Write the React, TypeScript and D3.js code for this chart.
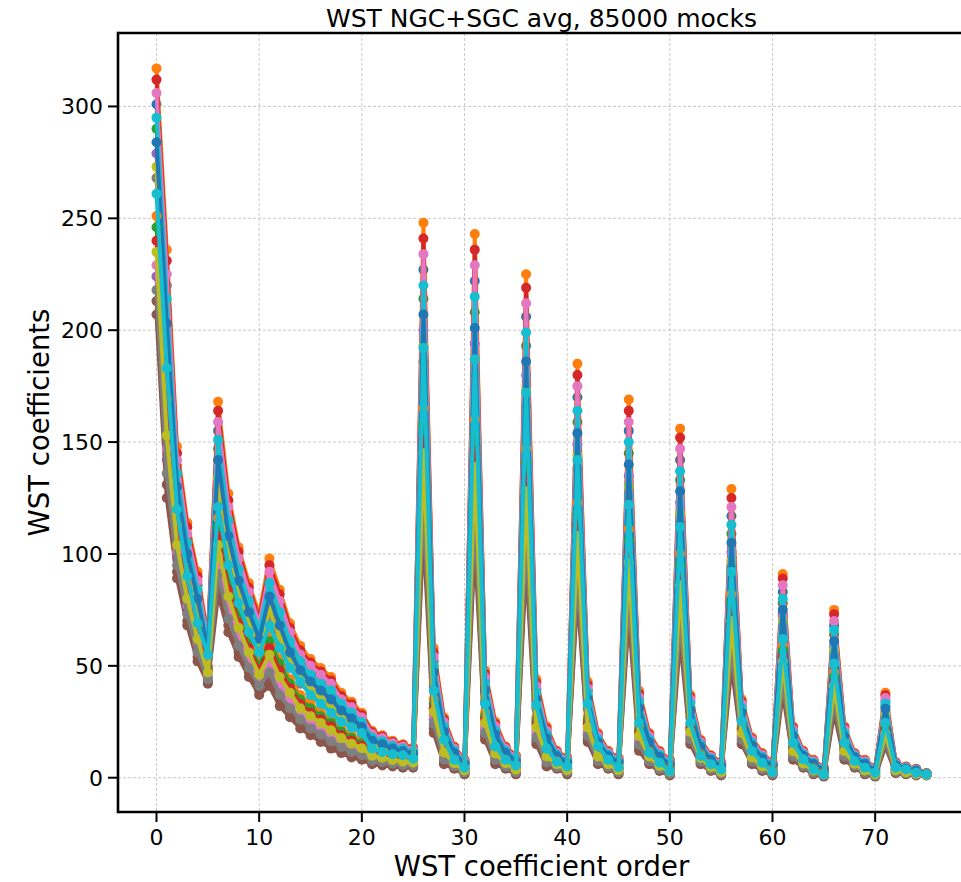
import React from "react";
import * as d3 from "d3";

// ---- data: WST coefficients of the mocks, 76 coefficients each ----
const mockT000 = [207,125,89,68,52,42,82,65,54,45,37,41,32,27,22,19,16,13,11,9,8,6,5.5,5,4.5,4.5,
  110,20,6,4,1.5, 104,17,6,4,1.5, 95,15,5,4,1.5, 82,16,6,4,1.5, 72,12,6,3,1,
  62,15,6,3,1, 50,15,6,3,1, 38,8,4.5,1.5,0.5, 29,8,4.5,1.5,0.5, 14,2,1.5,1,1];
const mockT005 = [213,131,92,70,54,43,86,68,56,47,39,44,35,29,24,21,17.7,14.6,12.4,10.3,9.1,6.8,6.2,5.6,5,5,
  117,22,7.1,4.5,1.8, 111,18.6,7,4.5,1.9, 102,16.5,5.9,4.4,1.9, 87,17.4,6.7,4.4,1.9, 77,13.4,6.7,3.5,1.4,
  67,16.1,6.6,3.4,1.3, 54,16,6.6,3.4,1.3, 41,8.8,4.9,1.8,0.7, 31,8.8,4.8,1.8,0.7, 15.2,2.3,1.7,1.2,1.1];
const mockT010 = [218,136,95,73,56,44,91,71,59,49,41,47,37,31,26,22,19.3,16.2,13.7,11.5,10.1,7.5,6.9,6.2,5.6,5.4,
  124,24,8.1,5,2.2, 118,20,7.9,5,2.4, 108,17.9,6.8,4.8,2.3, 92,18.7,7.4,4.8,2.3, 82,14.7,7.4,3.9,1.7,
  71,17.2,7.1,3.7,1.6, 58,17,7.2,3.8,1.6, 43,9.5,5.3,2.2,0.9, 34,9.5,5.2,2.2,0.9, 16.4,2.5,1.9,1.3,1.1];
const mockT015 = [224,142,98,75,58,45,95,74,62,51,43,50,40,33,28,24,21,17.8,15,12.8,11.2,8.3,7.5,6.8,6.1,5.9,
  131,26,9.2,5.5,2.5, 125,21.5,8.9,5.5,2.8, 115,19.5,7.7,5.2,2.6, 98,19.9,8.1,5.2,2.6, 87,16,8.1,4.4,2,
  76,18.3,7.7,4,1.9, 62,18,7.8,4.2,1.9, 46,10.3,5.7,2.5,1.1, 36,10.3,5.5,2.5,1.1, 17.6,2.8,2,1.5,1.2];
const mockT020 = [229,147,101,77,60,46,99,77,64,53,44,52,42,35,29,26,23,19.4,16.4,14,12.2,9,8.2,7.3,6.6,6.3,
  138,28,10.2,6,2.8, 132,23,9.8,6,3.2, 121,21,8.6,5.6,3, 103,21,8.8,5.6,3, 91,17.4,8.8,4.8,2.4,
  81,19.4,8.2,4.4,2.2, 66,19,8.4,4.6,2.2, 49,11,6,2.8,1.3, 38,11,5.8,2.8,1.3, 18.8,3,2.2,1.6,1.2];
const mockT025 = [235,153,104,80,62,47,104,81,67,56,46,55,45,38,31,27.5,24.5,21.2,17.7,15.2,13.2,9.8,8.9,7.9,7.2,6.8,
  145,29.5,11.3,6.5,3.2, 139,24.5,10.8,6.5,3.6, 128,22.5,9.5,6,3.4, 108,22.5,9.5,6,3.4, 96,18.7,9.5,5.3,2.8,
  86,20.5,8.8,4.8,2.5, 70,20,9,5,2.5, 52,11.8,6.4,3.2,1.5, 41,11.8,6.2,3.2,1.5, 19.9,3.3,2.4,1.8,1.3];
const mockT030 = [240,158,107,82,64,48,108,84,69,58,48,58,48,40,33,29,26,23,19,16.5,14.3,10.5,9.6,8.5,7.7,7.2,
  151,31,12.3,7,3.5, 146,26,11.7,7,4, 134,24,10.4,6.4,3.8, 113,24,10.2,6.4,3.8, 101,20,10.2,5.7,3.1,
  90,21.6,9.3,5.1,2.8, 74,21,9.6,5.4,2.8, 54,12.5,6.8,3.5,1.7, 43,12.5,6.5,3.5,1.7, 21,3.5,2.6,1.9,1.3];
const mockT035 = [246,164,110,84,66,49,112,87,72,60,50,61,51,42,35,31,27.5,24.5,20.5,17.8,15.4,11.3,10.3,9.1,8.2,7.7,
  158,33,13.4,7.5,3.8, 153,27.5,12.7,7.5,4.5, 141,25.5,11.3,6.8,4.2, 118,25.5,10.9,6.8,4.2, 106,21.5,10.9,6.2,3.5,
  95,22.7,9.9,5.5,3.1, 78,22,10.2,5.8,3.1, 57,13.3,7.2,3.8,1.9, 45,13.3,6.8,3.8,1.9, 22.3,3.8,2.8,2.1,1.4];
const mockT040 = [251,169,113,86,68,50,116,90,74,62,51,64,53,44,37,33,29,26,22,19,16.4,12,10.9,9.6,8.7,8.1,
  165,35,14.4,8,4.1, 160,29,13.6,8,4.9, 147,27,12.2,7.2,4.5, 123,27,11.6,7.2,4.5, 111,23,11.6,6.6,3.8,
  100,23.8,10.4,5.8,3.4, 82,23,10.8,6.2,3.4, 59,14,7.5,4.1,2.1, 47,14,7.1,4.1,2.1, 23.6,4,2.9,2.2,1.4];
const mockT055 = [268,186,122,93,74,54,129,99,81,68,57,72,60,50,42,38,34,30.5,26,22.8,19.6,14.3,13,11.3,10.3,9.5,
  186,41,17.6,9.5,5.1, 180,34,16.5,9.5,6.2, 166,31,14.9,8.4,5.7, 138,31,13.7,8.4,5.7, 126,27,13.7,8,4.9,
  114,26.9,12,6.9,4.3, 94,26,12.6,7.4,4.3, 67,16.3,8.7,5.1,2.7, 54,16.3,8.1,5.1,2.7, 27.2,4.8,3.5,2.7,1.6];
const mockT060 = [273,192,124,96,76,55,134,102,83,70,59,75,63,52,44,39,36,32,27,24,20.6,15,13.6,11.9,10.8,9.9,
  193,43,18.6,10,5.4, 187,36,17.4,10,6.6, 173,32,15.8,8.8,6, 144,32,14.4,8.8,6, 130,28,14.4,8.4,5.2,
  118,28,12.6,7.2,4.6, 97,27,13.2,7.8,4.6, 70,17,9,5.4,2.9, 57,17,8.4,5.4,2.9, 28,5,3.6,2.8,1.6];
const mockT065 = [279,198,127,98,78,56,138,105,86,72,61,78,66,54,46,41,37.5,33.5,28.5,25.2,21.6,15.8,14.3,12.5,11.4,10.4,
  200,45,19.7,10.5,5.8, 194,37.5,18.4,10.5,7.1, 180,33.5,16.7,9.2,6.4, 149,33.5,15.1,9.2,6.4, 135,29.5,15.1,8.9,5.6,
  123,29,13.2,7.6,4.9, 101,28,13.8,8.2,4.9, 73,17.8,9.4,5.8,3.1, 59,17.8,8.8,5.8,3.1, 29.4,5.3,3.8,3,1.7];
const mockT070 = [284,203,130,100,80,57,142,108,88,74,62,81,68,56,48,43,39,35,30,26.5,22.7,16.5,15,13,11.9,10.8,
  207,47,20.7,11,6.1, 201,39,19.3,11,7.5, 186,35,17.6,9.6,6.8, 154,35,15.8,9.6,6.8, 140,31,15.8,9.3,5.9,
  128,30,13.7,7.9,5.2, 105,29,14.4,8.6,5.2, 75,18.5,9.8,6.1,3.3, 61,18.5,9.1,6.1,3.3, 30.8,5.5,4,3.1,1.7];
const mockT075 = [290,209,133,103,82,58,147,112,91,77,64,84,71,59,50,44.5,40.5,37,31.5,27.8,23.8,17.3,15.7,13.6,12.4,11.3,
  214,48.5,21.8,11.5,6.4, 208,40.5,20.2,11.5,7.9, 193,36.5,18.5,10,7.2, 159,36.5,16.5,10,7.2, 145,32.5,16.5,9.8,6.3,
  133,31.5,14.3,8.3,5.5, 109,30,15,9,5.5, 78,19.3,10.2,6.4,3.5, 64,19.3,9.4,6.4,3.5, 31.9,5.8,4.2,3.3,1.8];
const mockT080 = [295,214,136,105,84,59,151,115,93,79,66,87,74,61,52,46,42,39,33,29,24.8,18,16.3,14.2,12.9,11.7,
  220,50,22.8,12,6.7, 215,42,21,12,8.3, 199,38,19.4,10.4,7.5, 164,38,17.2,10.4,7.5, 150,34,17.2,10.2,6.6,
  137,33,14.8,8.6,5.8, 113,31,15.6,9.4,5.8, 80,20,10.5,6.7,3.7, 66,20,9.7,6.7,3.7, 33,6,4.3,3.4,1.8];
const mockT085 = [301,220,139,107,86,60,155,118,96,81,68,90,77,63,54,48,44,40.5,34,30.2,25.9,18.8,17,14.8,13.5,12.2,
  227,52,23.9,12.5,7.1, 222,43.5,22,12.5,8.8, 206,39.5,20.2,10.8,7.9, 170,39,17.9,10.8,7.9, 155,35,17.9,10.7,7,
  142,34,15.4,9,6.1, 117,32,16.2,9.8,6.1, 83,20.8,10.9,7.1,3.9, 68,20.8,10.1,7.1,3.9, 34.3,6.3,4.5,3.6,1.9];
const mockT090 = [306,225,142,109,88,61,159,121,98,83,69,92,79,65,55,50,46,42,35,31.5,26.9,19.5,17.7,15.4,14,12.6,
  234,54,24.9,13,7.4, 229,45,23,13,9.2, 212,41,21,11.2,8.3, 175,40,18.6,11.2,8.3, 159,36,18.6,11.1,7.3,
  147,35,15.9,9.3,6.4, 121,33,16.8,10.2,6.4, 86,21.5,11.3,7.4,4.1, 70,21.5,10.4,7.4,4.1, 35.6,6.5,4.7,3.7,1.9];
const mockT095 = [312,231,145,112,90,62,164,124,101,85,71,95,82,67,57,51.5,47.5,43.5,36.5,32.8,28,20.3,18.4,16,14.5,13.1,
  241,56,26,13.5,7.7, 236,46.5,24,13.5,9.6, 219,42.5,22,11.6,8.7, 180,41.5,19.3,11.6,8.7, 164,37.5,19.3,11.6,7.7,
  152,36,16.5,9.7,6.7, 125,34,17.4,10.6,6.7, 89,22.3,11.7,7.7,4.3, 73,22.3,10.7,7.7,4.3, 36.8,6.8,4.9,3.9,2];
const mockT100 = [317,236,148,114,92,63,168,127,103,87,73,98,84,69,59,53,49,45,38,34,29,21,19,16.5,15,13.5,
  248,58,27,14,8, 243,48,25,14,10, 225,44,23,12,9, 185,43,20,12,9, 169,39,20,12,8,
  156,37,17,10,7, 129,35,18,11,7, 91,23,12,8,4.5, 75,23,11,8,4.5, 38,7,5,4,2];
const mockLast = [261,183,120,90,69,55,121,95,78,65,56,68,58,49,43,37,33,29,25,22.5,20,13,11.5,10.5,10,8.5,
  192,39,17,8,4.5, 187,33,14,8,5.5, 172,32.5,13,7,5, 142,33,14,8,4.7, 122,24.6,11.2,6.7,3,
  112,24.6,9.7,6,3.7, 92,25.3,11.9,6.7,2.5, 62,15.6,8.2,3.7,1.5, 51,15.6,7.5,4.5,2.2, 24.6,4.5,3.7,2.2,1.5];

// drawing order (matplotlib colour cycle follows this order)
const mockSeries = [
  mockT085, mockT100, mockT075, mockT095, mockT065, mockT000, mockT090, mockT055, mockT060, mockT080,
  mockT070, mockT040, mockT035, mockT030, mockT015, mockT005, mockT020, mockT010, mockT025, mockLast,
];

const tab10 = ["#1f77b4", "#ff7f0e", "#2ca02c", "#d62728", "#9467bd", "#8c564b", "#e377c2", "#7f7f7f", "#bcbd22", "#17becf"];
const xTicks = [0, 10, 20, 30, 40, 50, 60, 70];
const yTicks = [0, 50, 100, 150, 200, 250, 300];

const titleText = "WST NGC+SGC avg, 85000 mocks";
const xLabelText = "WST coefficient order";
const yLabelText = "WST coefficients";

export default function App() {
  const W = 961, H = 882;
  const left = 118, right = 965, top = 33, bottom = 812;
  const font = "'DejaVu Sans', sans-serif";
  const tickStyle = { fontFamily: font, fontSize: "22px" };

  const nCoef = mockSeries[0].length;
  const xPad = (nCoef - 1) * 0.05;
  const x = d3.scaleLinear().domain([-xPad, nCoef - 1 + xPad]).range([left, right]);
  const all = mockSeries.flat();
  const mn = d3.min(all) as number, mx = d3.max(all) as number;
  const yPad = (mx - mn) * 0.05;
  const y = d3.scaleLinear().domain([mn - yPad, mx + yPad]).range([bottom, top]);

  const line = d3.line<number>().x((_, i) => x(i)).y((d) => y(d));

  return (
    <svg width={W} height={H} style={{ position: "absolute", left: 0, top: 0, display: "block", background: "#fff" }}>
      <defs>
        <clipPath id="plotClip">
          <rect x={left} y={top} width={right - left} height={bottom - top} />
        </clipPath>
      </defs>
      <rect x={0} y={0} width={W} height={H} fill="#fff" />
      {/* grid */}
      <g stroke="#bdbdbd" strokeWidth={0.8} strokeDasharray="3,2">
        {xTicks.map((t) => (
          <line key={"gx" + t} x1={x(t)} x2={x(t)} y1={top} y2={bottom} />
        ))}
        {yTicks.map((t) => (
          <line key={"gy" + t} x1={left} x2={right} y1={y(t)} y2={y(t)} />
        ))}
      </g>
      {/* series */}
      <g clipPath="url(#plotClip)">
        {mockSeries.map((s, k) => {
          const c = tab10[k % 10];
          return (
            <g key={"s" + k}>
              <path d={line(s) || ""} fill="none" stroke={c} strokeWidth={4} strokeLinejoin="round" strokeLinecap="round" />
              {s.map((v, i) => (
                <circle key={i} cx={x(i)} cy={y(v)} r={5} fill={c} />
              ))}
            </g>
          );
        })}
      </g>
      {/* spines */}
      <g stroke="#000" strokeWidth={2.6} fill="none">
        <line x1={left} x2={left} y1={top - 1.3} y2={bottom + 1.3} />
        <line x1={left} x2={right} y1={bottom} y2={bottom} />
        <line x1={left} x2={right} y1={top} y2={top} />
        <line x1={right} x2={right} y1={top} y2={bottom} />
      </g>
      {/* ticks */}
      {xTicks.map((t) => (
        <g key={"xt" + t}>
          <line x1={x(t)} x2={x(t)} y1={bottom} y2={bottom + 10} stroke="#000" strokeWidth={2} />
          <text x={x(t)} y={845} textAnchor="middle" fill="#000" style={tickStyle}>{t}</text>
        </g>
      ))}
      {yTicks.map((t) => (
        <g key={"yt" + t}>
          <line x1={left - 10} x2={left} y1={y(t)} y2={y(t)} stroke="#000" strokeWidth={2} />
          <text x={103} y={y(t)} dy="0.36em" textAnchor="end" fill="#000" style={tickStyle}>{t}</text>
        </g>
      ))}
      <text x={(left + right) / 2} y={27} textAnchor="middle" fill="#000" style={{ fontFamily: font, fontSize: "25px" }}>{titleText}</text>
      <text x={(left + right) / 2} y={876} textAnchor="middle" fill="#000" style={{ fontFamily: font, fontSize: "27.5px" }}>{xLabelText}</text>
      <text transform={`translate(49,${(top + bottom) / 2}) rotate(-90)`} textAnchor="middle" fill="#000" style={{ fontFamily: font, fontSize: "27.5px" }}>{yLabelText}</text>
    </svg>
  );
}
